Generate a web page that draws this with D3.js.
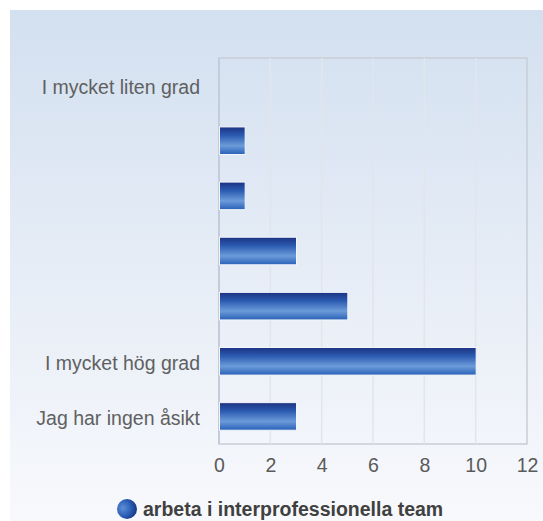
<!DOCTYPE html>
<html>
<head>
<meta charset="utf-8">
<script src="https://cdn.jsdelivr.net/npm/d3@7"></script>
<style>
  body { margin: 0; background: #fff; }
  svg { display: block; font-family: "Liberation Sans", Arial, sans-serif; }
</style>
</head>
<body>
<div id="chart"></div>
<script>
// categories (only three carry a visible label)
var categories = ["I mycket liten grad", "", "", "", "", "I mycket hög grad", "Jag har ingen åsikt"];
var values = [0, 1, 1, 3, 5, 10, 3];
var xTicks = [0, 2, 4, 6, 8, 10, 12];
var seriesName = "arbeta i interprofessionella team";

var width = 543,
    height = 521,
    margin = {top: 58, left: 219, right: 16, bottom: 77};

var svg = d3.select("#chart").append("svg")
    .attr("width", width)
    .attr("height", height);

var defs = svg.append("defs");

var bg = defs.append("linearGradient").attr("id", "bg")
    .attr("x1", 0).attr("y1", 0).attr("x2", 0).attr("y2", 1);
bg.append("stop").attr("offset", "0%").attr("stop-color", "#d3e0f0");
bg.append("stop").attr("offset", "100%").attr("stop-color", "#f8f9fc");

var barGrad = defs.append("linearGradient").attr("id", "bar")
    .attr("x1", 0).attr("y1", 0).attr("x2", 0).attr("y2", 1);
barGrad.append("stop").attr("offset", "0%").attr("stop-color", "#1c3282");
barGrad.append("stop").attr("offset", "30%").attr("stop-color", "#2a5ab0");
barGrad.append("stop").attr("offset", "68%").attr("stop-color", "#6c9bd9");
barGrad.append("stop").attr("offset", "100%").attr("stop-color", "#2860b8");

var dot = defs.append("radialGradient").attr("id", "dot")
    .attr("cx", "30%").attr("cy", "45%").attr("r", "70%");
dot.append("stop").attr("offset", "0%").attr("stop-color", "#5d8fd6");
dot.append("stop").attr("offset", "60%").attr("stop-color", "#2a5cb5");
dot.append("stop").attr("offset", "100%").attr("stop-color", "#183680");

// background
svg.append("rect")
    .attr("x", 10).attr("y", 10)
    .attr("width", width - 10).attr("height", height - 10)
    .attr("fill", "url(#bg)");

var x = d3.scaleLinear()
    .domain([0, 12])
    .range([margin.left, width - margin.right]);

var y = d3.scaleBand()
    .domain(d3.range(categories.length))
    .range([margin.top, height - margin.bottom])
    .paddingInner(0.5)
    .paddingOuter(0.25);

// plot frame
svg.append("rect")
    .attr("x", x(0)).attr("y", margin.top)
    .attr("width", x(12) - x(0)).attr("height", height - margin.bottom - margin.top)
    .attr("fill", "none")
    .attr("stroke", "#c9ced6")
    .attr("stroke-width", 1.5);

// gridlines
svg.append("g").selectAll("line")
    .data(xTicks.slice(1, -1))
  .enter().append("line")
    .attr("x1", function(d) { return x(d); })
    .attr("x2", function(d) { return x(d); })
    .attr("y1", margin.top)
    .attr("y2", height - margin.bottom)
    .attr("stroke", "#e1e5ec")
    .attr("stroke-width", 1.5);

// left axis line
svg.append("line")
    .attr("x1", x(0)).attr("x2", x(0))
    .attr("y1", margin.top).attr("y2", height - margin.bottom)
    .attr("stroke", "#c3cbdd")
    .attr("stroke-width", 2);

// bars
svg.append("g").selectAll("rect")
    .data(values)
  .enter().append("rect")
    .attr("x", x(0) + 0.5)
    .attr("y", function(d, i) { return y(i); })
    .attr("width", function(d) { return Math.max(0, x(d) - x(0)); })
    .attr("height", y.bandwidth())
    .attr("fill", "url(#bar)")
    .attr("stroke", "#f4f6fb")
    .attr("stroke-width", 1)
    .style("display", function(d) { return d > 0 ? null : "none"; });

// x axis
var xAxis = d3.axisBottom(x)
    .tickValues(xTicks)
    .tickSize(0)
    .tickPadding(14);

svg.append("g")
    .attr("transform", "translate(0," + (height - margin.bottom) + ")")
    .call(xAxis)
    .call(function(g) { g.select(".domain").remove(); })
    .selectAll("text")
    .attr("fill", "#5a5a5a")
    .style("font-size", "19.5px")
    .style("font-family", "\"Liberation Sans\", Arial, sans-serif");

// y axis
var yAxis = d3.axisLeft(y)
    .tickSize(0)
    .tickPadding(19)
    .tickFormat(function(i) { return categories[i]; });

svg.append("g")
    .attr("transform", "translate(" + x(0) + ",0)")
    .call(yAxis)
    .call(function(g) { g.select(".domain").remove(); })
    .selectAll("text")
    .attr("dy", "0.45em")
    .attr("fill", "#606060")
    .style("font-size", "19.5px")
    .style("font-family", "\"Liberation Sans\", Arial, sans-serif");

// legend
var legend = svg.append("g").attr("transform", "translate(127,509)");
legend.append("circle")
    .attr("r", 10)
    .attr("fill", "url(#dot)");
legend.append("text")
    .attr("x", 16)
    .attr("dy", "0.35em")
    .attr("fill", "#404040")
    .style("font-size", "19.5px")
    .style("font-weight", "bold")
    .text(seriesName);
</script>
</body>
</html>
